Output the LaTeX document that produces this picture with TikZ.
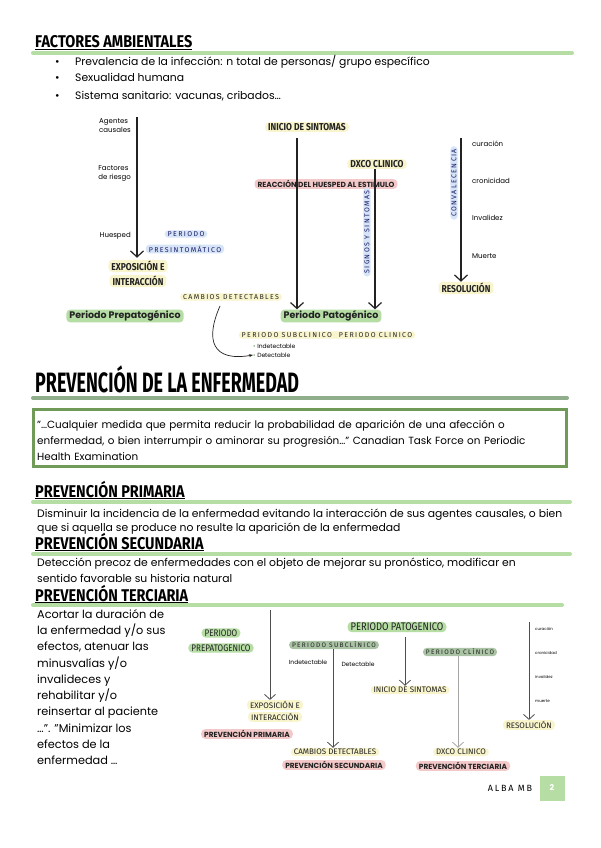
\documentclass[tikz,border=0pt]{standalone}
\usepackage{fontspec}
\usepackage{tikz}
\usetikzlibrary{positioning,arrows.meta}
\setmainfont{Poppins}
\newfontfamily\condfont[FakeStretch=0.85]{Fira Sans}
\newfontfamily\plainfont{Fira Sans}
\newfontfamily\headfont[FakeStretch=0.85]{Fira Sans}
\newfontfamily\bigheadfont[FakeStretch=0.64]{Fira Sans}
\newfontfamily\spacedfont[LetterSpace=20]{Fira Sans}
\definecolor{leaf}{HTML}{B5DDA4}
\definecolor{sage}{HTML}{A9C3A4}
\definecolor{butter}{HTML}{F8F4CC}
\definecolor{sky}{HTML}{D6E4F7}
\definecolor{blush}{HTML}{F3C8C8}
\definecolor{moss}{HTML}{6F9A57}
\definecolor{greybar}{HTML}{90AE8C}
\definecolor{ink}{HTML}{222222}

\begin{document}
\begin{tikzpicture}[x=1pt, y=-1pt,
  hl/.style={rounded corners=4pt, inner xsep=3pt, inner ysep=1.2pt, text=ink},
  yel/.style={hl, fill=butter, font=\condfont\bfseries\fontsize{10}{11}\selectfont},
  yelsm/.style={hl, fill=butter, font=\plainfont\fontsize{8}{9}\selectfont},
  grn/.style={hl, fill=leaf, font=\bfseries\fontsize{9.5}{11}\selectfont},
  grnsm/.style={hl, fill=leaf, font=\condfont\fontsize{9.5}{11}\selectfont},
  sagebox/.style={hl, fill=sage, font=\spacedfont\fontsize{6.5}{8}\selectfont},
  blu/.style={hl, fill=sky, text=ink!70!blue, font=\spacedfont\fontsize{7}{8}\selectfont},
  spaced/.style={hl, fill=butter, font=\spacedfont\fontsize{7}{8}\selectfont},
  redhl/.style={hl, fill=blush, font=\bfseries\fontsize{7.4}{8}\selectfont},
  note/.style={font=\fontsize{7}{9}\selectfont, align=left, inner sep=0pt},
  tinynote/.style={font=\fontsize{4}{5}\selectfont, anchor=base west, inner sep=0pt},
  body/.style={anchor=base west, inner sep=0pt, font=\fontsize{10.8}{12}\selectfont},
  head/.style={anchor=base west, inner sep=0pt, font=\headfont\bfseries\fontsize{17}{17}\selectfont},
  bar/.style={line width=4pt, line cap=round, leaf},
  arr/.style={-{Straight Barb[length=6pt, width=13pt]}, line width=1.2pt, ink},
  arrsm/.style={-{Straight Barb[length=5pt, width=11pt]}, line width=0.8pt, ink!80}]
  \useasboundingbox (0,0) rectangle (600,848);
  \fill[white] (0,0) rectangle (600,848);

  % factores ambientales
  \node[head] (hfact) at (35,48) {\underline{FACTORES AMBIENTALES}};
  \draw[bar] (33,53) -- (572,53);
  \foreach \y/\t [count=\i] in {63/{Prevalencia de la infección: n total de personas/ grupo específico},
      79/{Sexualidad humana}, 97/{Sistema sanitario: vacunas, cribados…}} {
    \node[body] (dot\i) at (55,\y+3) {•};
    \node[body] (fact\i) at (75,\y+3) {\t};
  }

  % historia natural
  \coordinate (ag) at (137,117);
  \node[note, anchor=north east] (agentes) at (131,118) {Agentes\\causales};
  \node[note, anchor=north east] (factores) at (131,165) {Factores\\de riesgo};
  \node[note, anchor=east] (huesped) at (131,236) {Huesped};
  \node[blu] (per1) at (186,234) {PERIODO};
  \node[blu] (presint) at (185,249) {PRESINTOMÁTICO};
  \node[yel] (expo1) at (138,266) {EXPOSICIÓN E};
  \node[yel] (inter1) at (138,281) {INTERACCIÓN};
  \node[spaced] (cambios1) at (231,297) {CAMBIOS DETECTABLES};
  \node[grn] (prepat1) at (125,316) {Periodo Prepatogénico};
  \node[yel] (inicio1) at (307,127) {INICIO DE SINTOMAS};
  \node[redhl] (reaccion) at (326,184) {REACCIÓN DEL HUESPED AL ESTIMULO};
  \node[yel] (dxco1) at (377,164) {DXCO CLINICO};
  \node[blu, rotate=90] (signos) at (367,232) {SIGNOS Y SINTOMAS};
  \node[grn] (pato1) at (331,316) {Periodo Patogénico};
  \node[spaced] (subcli1) at (327,335) {PERIODO SUBCLINICO\quad PERIODO CLINICO};
  \node[note, anchor=west, font=\fontsize{6}{7}\selectfont] (indet1) at (253,346) {\textcolor{moss}{•} Indetectable};
  \node[note, anchor=west, font=\fontsize{6}{7}\selectfont] (det1) at (253,355) {\textcolor{moss}{•} Detectable};
  \node[blu, rotate=90] (conval) at (454,183) {CONVALECENCIA};
  \node[note, anchor=west] (curac1) at (472,144) {curación};
  \node[note, anchor=west] (cronic1) at (472,181) {cronicidad};
  \node[note, anchor=west] (inval1) at (472,218) {Invalidez};
  \node[note, anchor=west] (muerte1) at (472,256) {Muerte};
  \node[yel] (resol1) at (466,288) {RESOLUCIÓN};
  \coordinate (ini) at (297,138);
  \coordinate (cv) at (220,306);
  \coordinate (res) at (461,138);
  \draw[arr, shorten >=2pt] (ag) -- (ag |- expo1.north);
  \draw[arr] (ini) -- (ini |- pato1.north);
  \draw[arr] ([xshift=-2pt]dxco1.south) -- ([xshift=-2pt]dxco1.south |- pato1.north);
  \draw[arr] (res) -- (res |- resol1.north);
  \draw[-{Stealth[length=4pt]}, line width=0.7pt, ink] (cv) .. controls (205,340) and (212,362) .. (det1.west);

  % prevencion de la enfermedad
  \node[anchor=base west, inner sep=0pt, font=\bigheadfont\bfseries\fontsize{28}{28}\selectfont] (hprev) at (35,392) {PREVENCIÓN DE LA ENFERMEDAD};
  \draw[bar, greybar] (33,398) -- (567,398);
  \node[draw=moss, line width=2.5pt, anchor=north west, minimum width=533, minimum height=57] (cita) at (32,408) {};
  \node[anchor=north west, inner sep=0pt, text width=522, align=left, font=\fontsize{10.4}{16}\selectfont] (citatxt) at (37,420)
    {"…Cualquier medida que permita reducir la probabilidad de aparición de una afección o\\
     enfermedad, o bien interrumpir o aminorar su progresión…" Canadian Task Force on Periodic\\
     Health Examination};

  \node[head] (hprim) at (35,497) {\underline{PREVENCIÓN PRIMARIA}};
  \draw[bar] (33,502) -- (570,502);
  \node[body] (tprim1) at (37,517) {Disminuir la incidencia de la enfermedad evitando la interacción de sus agentes causales, o bien};
  \node[body] (tprim2) at (37,531) {que si aquella se produce no resulte la aparición de la enfermedad};

  \node[head] (hsec) at (35,549) {\underline{PREVENCIÓN SECUNDARIA}};
  \draw[bar] (33,554) -- (570,554);
  \node[body] (tsec1) at (37,566) {Detección precoz de enfermedades con el objeto de mejorar su pronóstico, modificar en};
  \node[body] (tsec2) at (37,582) {sentido favorable su historia natural};

  \node[head] (hter) at (35,601) {\underline{PREVENCIÓN TERCIARIA}};
  \draw[bar] (33,605) -- (562,605);
  \node[anchor=north west, inner sep=0pt, align=left, font=\fontsize{11.3}{16.3}\selectfont] (tter) at (37,609)
    {Acortar la duración de\\ la enfermedad y/o sus\\ efectos, atenuar las\\ minusvalías y/o\\ invalideces y\\
     rehabilitar y/o\\ reinsertar al paciente\\ …". "Minimizar los\\ efectos de la\\ enfermedad …};

  % esquema de prevencion
  \node[grnsm] (prepat2) at (221,633) {PERIODO};
  \node[grnsm] (prepat3) at (221,648) {PREPATOGENICO};
  \node[yelsm] (expo2) at (275,705) {EXPOSICIÓN E};
  \node[yelsm] (inter2) at (275,717) {INTERACCIÓN};
  \node[redhl] (prim2) at (247,734) {PREVENCIÓN PRIMARIA};
  \node[grnsm, font=\condfont\fontsize{11}{12}\selectfont] (pato2) at (397,627) {PERIODO PATOGENICO};
  \node[sagebox] (sub2) at (334,645) {PERIODO SUBCLÍNICO};
  \node[note, font=\fontsize{6}{7}\selectfont] (indet2) at (308,662) {Indetectable};
  \node[note, font=\fontsize{6}{7}\selectfont] (det2) at (358,664) {Detectable};
  \node[yelsm] (cambios2) at (335,752) {CAMBIOS DETECTABLES};
  \node[redhl] (sec2) at (334,765) {PREVENCIÓN SECUNDARIA};
  \node[yelsm] (inicio2) at (410,690) {INICIO DE SINTOMAS};
  \node[sagebox] (cli2) at (460,652) {PERIODO CLÍNICO};
  \node[yelsm] (dxco2) at (461,752) {DXCO CLINICO};
  \node[redhl] (ter2) at (463,766) {PREVENCIÓN TERCIARIA};
  \node[yelsm] (resol2) at (529,725) {RESOLUCIÓN};
  \node[tinynote] (curac2) at (535,630) {curación};
  \node[tinynote] (cronic2) at (535,654) {cronicidad};
  \node[tinynote] (inval2) at (535,678) {invalidez};
  \node[tinynote] (muerte2) at (535,702) {muerte};
  \coordinate (pp) at (270,610);
  \coordinate (pt) at (405,637);
  \coordinate (rs) at (529,622);
  \draw[arrsm] (pp) -- (pp |- expo2.north);
  \draw[arrsm] ([xshift=-1pt]sub2.south) -- ([xshift=-1pt]sub2.south |- cambios2.north);
  \draw[arrsm] (pt) -- (pt |- inicio2.north);
  \draw[arrsm, ink!40] ([xshift=-2pt]cli2.south) -- ([xshift=-2pt]cli2.south |- dxco2.north);
  \draw[arrsm] (rs) -- (rs |- resol2.north);

  % pie
  \node[font=\spacedfont\fontsize{9}{10}\selectfont] (autora) at (510,788) {ALBA MB};
  \node[fill=leaf, minimum size=25pt, text=white, font=\bfseries\fontsize{8}{9}\selectfont] (pagina) at (552,788) {2};
\end{tikzpicture}
\end{document}
